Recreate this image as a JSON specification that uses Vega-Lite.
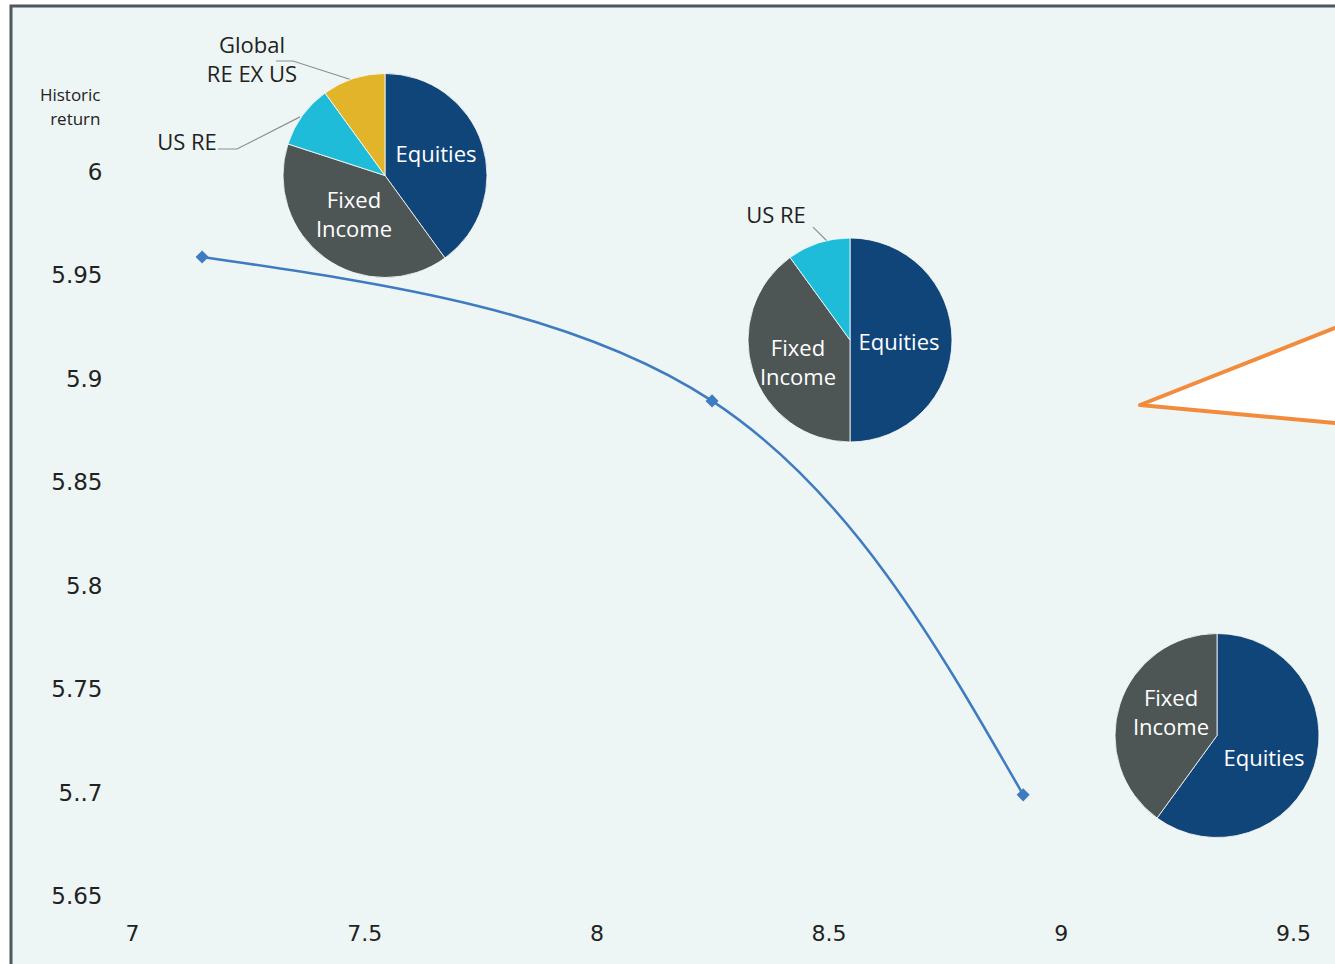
{
  "$schema": "https://vega.github.io/schema/vega-lite/v6.json",
  "width": 1334,
  "height": 969,
  "autosize": {"type": "none"},
  "padding": {"left": 11, "top": 6, "right": 0, "bottom": 0},
  "background": "#ffffff",
  "config": {
    "view": {"fill": "#edf6f5", "stroke": "#4f565e", "strokeWidth": 3},
    "font": "Open Sans"
  },
  "datasets": {
    "curve": [
      {"risk": 7.151, "ret": 5.959},
      {"risk": 8.249, "ret": 5.8895},
      {"risk": 8.919, "ret": 5.6993}
    ],
    "pies": [
      {"pie": 1, "cx": 7.5448, "cy": 5.99831, "asset": "Equities", "share": 40, "ord": 1},
      {"pie": 1, "cx": 7.5448, "cy": 5.99831, "asset": "Fixed Income", "share": 40, "ord": 2},
      {"pie": 1, "cx": 7.5448, "cy": 5.99831, "asset": "US RE", "share": 10, "ord": 3},
      {"pie": 1, "cx": 7.5448, "cy": 5.99831, "asset": "Global RE EX US", "share": 10, "ord": 4},
      {"pie": 2, "cx": 8.54608, "cy": 5.9189, "asset": "Equities", "share": 50, "ord": 1},
      {"pie": 2, "cx": 8.54608, "cy": 5.9189, "asset": "Fixed Income", "share": 40, "ord": 2},
      {"pie": 2, "cx": 8.54608, "cy": 5.9189, "asset": "US RE", "share": 10, "ord": 3},
      {"pie": 3, "cx": 9.33635, "cy": 5.72796, "asset": "Equities", "share": 60, "ord": 1},
      {"pie": 3, "cx": 9.33635, "cy": 5.72796, "asset": "Fixed Income", "share": 40, "ord": 2}
    ],
    "inlabels": [
      {"lx": 7.6546, "ly": 6.0082, "txt": "Equities"},
      {"lx": 7.478, "ly": 5.986, "txt": "Fixed\nIncome"},
      {"lx": 8.6516, "ly": 5.9174, "txt": "Equities"},
      {"lx": 8.4341, "ly": 5.91455, "txt": "Fixed\nIncome"},
      {"lx": 9.2373, "ly": 5.74558, "txt": "Fixed\nIncome"},
      {"lx": 9.4376, "ly": 5.7166, "txt": "Equities"}
    ],
    "outlabels": [
      {"lx": 7.2584, "ly": 6.06083, "txt": "Global\nRE EX US"},
      {"lx": 7.1184, "ly": 6.014, "txt": "US RE"},
      {"lx": 8.3867, "ly": 5.9788, "txt": "US RE"}
    ],
    "leaders": [
      {"leader": "A", "seq": 1, "lx": 7.3101, "ly": 6.0536},
      {"leader": "A", "seq": 2, "lx": 7.3467, "ly": 6.0536},
      {"leader": "A", "seq": 3, "lx": 7.4737, "ly": 6.0444},
      {"leader": "B", "seq": 1, "lx": 7.1852, "ly": 6.0111},
      {"leader": "B", "seq": 2, "lx": 7.2261, "ly": 6.0111},
      {"leader": "B", "seq": 3, "lx": 7.3618, "ly": 6.0266},
      {"leader": "C", "seq": 1, "lx": 8.4664, "ly": 5.9734},
      {"leader": "C", "seq": 2, "lx": 8.4987, "ly": 5.9662}
    ],
    "callout": [
      {"tx": 9.17054, "top": 5.88752, "bottom": 5.88752},
      {"tx": 9.64427, "top": 5.92947, "bottom": 5.87771}
    ]
  },
  "layer": [
    {
      "data": {"name": "callout"},
      "mark": {"type": "area", "fill": "#ffffff", "stroke": "#f28b3b", "strokeWidth": 4, "strokeJoin": "round", "clip": true},
      "encoding": {
        "x": {"field": "tx", "type": "quantitative", "scale": {"domain": [6.73945, 9.61197], "nice": false, "zero": false}},
        "y": {"field": "top", "type": "quantitative", "scale": {"domain": [5.61234, 6.08014], "nice": false, "zero": false}},
        "y2": {"field": "bottom"}
      }
    },
    {
      "data": {"name": "leaders"},
      "mark": {"type": "line", "color": "#8a8f92", "strokeWidth": 1.2},
      "encoding": {
        "x": {"field": "lx", "type": "quantitative"},
        "y": {"field": "ly", "type": "quantitative"},
        "detail": {"field": "leader"},
        "order": {"field": "seq"}
      }
    },
    {
      "data": {"name": "curve"},
      "mark": {"type": "line", "interpolate": "natural", "color": "#3f7bc0", "strokeWidth": 2.5},
      "encoding": {
        "x": {
          "field": "risk", "type": "quantitative",
          "axis": {
            "orient": "bottom", "offset": -42, "values": [7, 7.5, 8, 8.5, 9, 9.5], "format": "~g",
            "domain": false, "ticks": false, "tickSize": 0, "grid": false, "labelPadding": 0,
            "labelBaseline": "middle", "labelFontSize": 22, "labelColor": "#222222", "labelFont": "DejaVu Sans",
            "title": null, "labelFlush": false
          }
        },
        "y": {
          "field": "ret", "type": "quantitative",
          "axis": {
            "orient": "left", "offset": -91, "values": [5.65, 5.7, 5.75, 5.8, 5.85, 5.9, 5.95, 6], "format": "~g",
            "labelExpr": "datum.value > 5.699 && datum.value < 5.701 ? '5..7' : datum.label",
            "domain": false, "ticks": false, "tickSize": 0, "grid": false, "labelPadding": 0,
            "labelAlign": "right", "labelBaseline": "middle", "labelFontSize": 23, "labelColor": "#222222", "labelFont": "DejaVu Sans",
            "labelFlush": false,
            "title": ["Historic", "return"], "titleAngle": 0, "titleAlign": "right", "titleBaseline": "top",
            "titleX": -2, "titleY": 81, "titleFontSize": 17, "titleFontWeight": "normal", "titleColor": "#222222",
            "titleFont": "Open Sans", "titleLineHeight": 24
          }
        }
      }
    },
    {
      "data": {"name": "curve"},
      "mark": {"type": "point", "shape": "diamond", "filled": true, "size": 170, "color": "#3f7bc0", "opacity": 1},
      "encoding": {
        "x": {"field": "risk", "type": "quantitative"},
        "y": {"field": "ret", "type": "quantitative"}
      }
    },
    {
      "data": {"name": "pies"},
      "transform": [{"filter": "datum.pie == 1"}],
      "mark": {"type": "arc", "radius": 102, "stroke": "#ffffff", "strokeWidth": 0.8},
      "encoding": {
        "x": {"field": "cx", "type": "quantitative"},
        "y": {"field": "cy", "type": "quantitative"},
        "theta": {"field": "share", "type": "quantitative"},
        "order": {"field": "ord"},
        "color": {"field": "asset", "type": "nominal", "legend": null,
          "scale": {"domain": ["Equities", "Fixed Income", "US RE", "Global RE EX US"], "range": ["#10457a", "#4e5655", "#1fbcd9", "#e1b42a"]}}
      }
    },
    {
      "data": {"name": "pies"},
      "transform": [{"filter": "datum.pie == 2"}],
      "mark": {"type": "arc", "radius": 102, "stroke": "#ffffff", "strokeWidth": 0.8},
      "encoding": {
        "x": {"field": "cx", "type": "quantitative"},
        "y": {"field": "cy", "type": "quantitative"},
        "theta": {"field": "share", "type": "quantitative"},
        "order": {"field": "ord"},
        "color": {"field": "asset", "type": "nominal", "legend": null}
      }
    },
    {
      "data": {"name": "pies"},
      "transform": [{"filter": "datum.pie == 3"}],
      "mark": {"type": "arc", "radius": 102, "stroke": "#ffffff", "strokeWidth": 0.8},
      "encoding": {
        "x": {"field": "cx", "type": "quantitative"},
        "y": {"field": "cy", "type": "quantitative"},
        "theta": {"field": "share", "type": "quantitative"},
        "order": {"field": "ord"},
        "color": {"field": "asset", "type": "nominal", "legend": null}
      }
    },
    {
      "data": {"name": "inlabels"},
      "mark": {"type": "text", "color": "#ffffff", "fontSize": 22, "font": "Open Sans", "align": "center", "baseline": "middle", "lineBreak": "\n", "lineHeight": 29},
      "encoding": {
        "x": {"field": "lx", "type": "quantitative"},
        "y": {"field": "ly", "type": "quantitative"},
        "text": {"field": "txt"}
      }
    },
    {
      "data": {"name": "outlabels"},
      "mark": {"type": "text", "color": "#222222", "fontSize": 22, "font": "Open Sans", "align": "center", "baseline": "middle", "lineBreak": "\n", "lineHeight": 29},
      "encoding": {
        "x": {"field": "lx", "type": "quantitative"},
        "y": {"field": "ly", "type": "quantitative"},
        "text": {"field": "txt"}
      }
    }
  ]
}
